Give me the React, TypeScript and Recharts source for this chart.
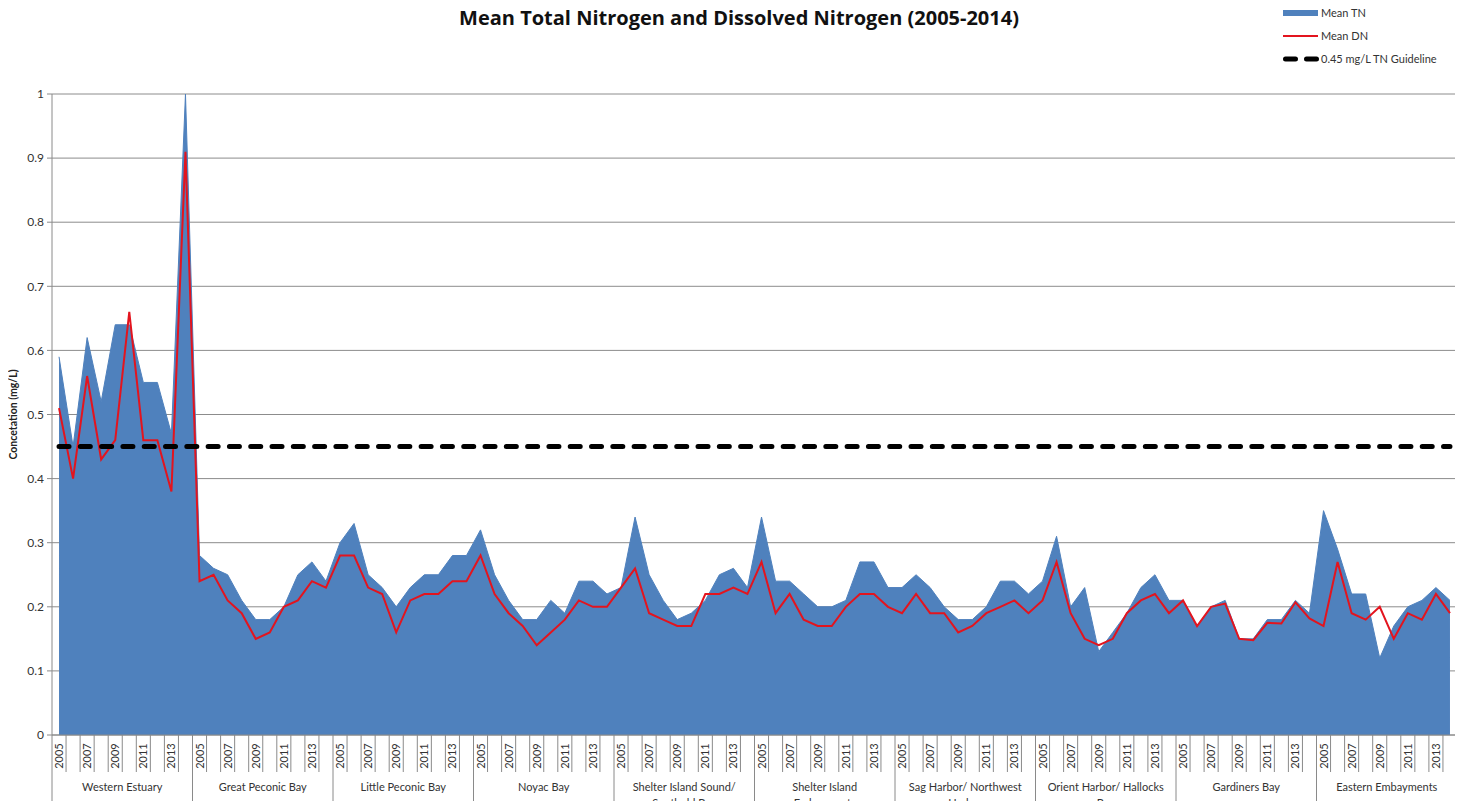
import { Area, CartesianGrid, ComposedChart, Line, ReferenceLine, XAxis, YAxis } from "recharts";

const SITES = [
  "Western Estuary",
  "Great Peconic Bay",
  "Little Peconic Bay",
  "Noyac Bay",
  "Shelter Island Sound/\nSouthold Bay",
  "Shelter Island\nEmbayments",
  "Sag Harbor/ Northwest\nHarbor",
  "Orient Harbor/ Hallocks\nBay",
  "Gardiners Bay",
  "Eastern Embayments",
];

const YEARS = [2005, 2006, 2007, 2008, 2009, 2010, 2011, 2012, 2013, 2014];

// mean total nitrogen, one row per site, 2005..2014
const MEAN_TN = [
  [0.59, 0.45, 0.62, 0.52, 0.64, 0.64, 0.55, 0.55, 0.47, 1.0],
  [0.28, 0.26, 0.25, 0.21, 0.18, 0.18, 0.2, 0.25, 0.27, 0.24],
  [0.3, 0.33, 0.25, 0.23, 0.2, 0.23, 0.25, 0.25, 0.28, 0.28],
  [0.32, 0.25, 0.21, 0.18, 0.18, 0.21, 0.19, 0.24, 0.24, 0.22],
  [0.23, 0.34, 0.25, 0.21, 0.18, 0.19, 0.21, 0.25, 0.26, 0.23],
  [0.34, 0.24, 0.24, 0.22, 0.2, 0.2, 0.21, 0.27, 0.27, 0.23],
  [0.23, 0.25, 0.23, 0.2, 0.18, 0.18, 0.2, 0.24, 0.24, 0.22],
  [0.24, 0.31, 0.2, 0.23, 0.13, 0.16, 0.19, 0.23, 0.25, 0.21],
  [0.21, 0.17, 0.2, 0.21, 0.15, 0.15, 0.18, 0.18, 0.21, 0.19],
  [0.35, 0.29, 0.22, 0.22, 0.12, 0.17, 0.2, 0.21, 0.23, 0.21],
];

// mean dissolved nitrogen
const MEAN_DN = [
  [0.51, 0.4, 0.56, 0.43, 0.46, 0.66, 0.46, 0.46, 0.38, 0.91],
  [0.24, 0.25, 0.21, 0.19, 0.15, 0.16, 0.2, 0.21, 0.24, 0.23],
  [0.28, 0.28, 0.23, 0.22, 0.16, 0.21, 0.22, 0.22, 0.24, 0.24],
  [0.28, 0.22, 0.19, 0.17, 0.14, 0.16, 0.18, 0.21, 0.2, 0.2],
  [0.23, 0.26, 0.19, 0.18, 0.17, 0.17, 0.22, 0.22, 0.23, 0.22],
  [0.27, 0.19, 0.22, 0.18, 0.17, 0.17, 0.2, 0.22, 0.22, 0.2],
  [0.19, 0.22, 0.19, 0.19, 0.16, 0.17, 0.19, 0.2, 0.21, 0.19],
  [0.21, 0.27, 0.19, 0.15, 0.14, 0.15, 0.19, 0.21, 0.22, 0.19],
  [0.21, 0.17, 0.2, 0.205, 0.15, 0.148, 0.175, 0.174, 0.207, 0.182],
  [0.17, 0.27, 0.19, 0.18, 0.2, 0.15, 0.19, 0.18, 0.22, 0.19],
];

const GUIDELINE = 0.45;
const Y_TICKS = [0, 0.1, 0.2, 0.3, 0.4, 0.5, 0.6, 0.7, 0.8, 0.9, 1];

const rows = SITES.flatMap((site, s) =>
  YEARS.map((year, i) => ({
    key: `${s}-${year}`,
    site,
    year,
    tn: MEAN_TN[s][i],
    dn: MEAN_DN[s][i],
  }))
);

const W = 1463;
const H = 809;
const PLOT_LEFT = 52;
const PLOT_RIGHT = 1457;
const PLOT_TOP = 94;
const PLOT_BOTTOM = 735;
const BAND = (PLOT_RIGHT - PLOT_LEFT) / rows.length;

const FONT = "Lato, 'Open Sans', sans-serif";
const AXIS = "#8a8a8a";
const GRID = "#8c8c8c";
const BLUE = "#4F81BD";
const RED = "#E3141E";
const TEXT = "#333";

function YearTick(props: any) {
  const { x, index } = props;
  const row = rows[index];
  if (!row) return null;
  const i = index % YEARS.length;
  const left = x - BAND / 2;
  const right = x + BAND / 2;
  const lines = i === 4 ? SITES[Math.floor(index / YEARS.length)].split("\n") : [];
  return (
    <g>
      <line x1={left} x2={left} y1={PLOT_BOTTOM} y2={i === 0 ? H : PLOT_BOTTOM + 37} stroke={AXIS} />
      {index === rows.length - 1 && <line x1={right} x2={right} y1={PLOT_BOTTOM} y2={H} stroke={AXIS} />}
      {i % 2 === 0 && (
        <text
          transform={`translate(${x + 4},${PLOT_BOTTOM + 21}) rotate(-90)`}
          textAnchor="middle"
          fontSize={11}
          fontFamily={FONT}
          fill={TEXT}
        >
          {row.year}
        </text>
      )}
      {lines.map((t, k) => (
        <text key={k} x={right} y={PLOT_BOTTOM + 56 + k * 16} textAnchor="middle" fontSize={11} fontFamily={FONT} fill={TEXT}>
          {t}
        </text>
      ))}
    </g>
  );
}

function YLabel(props: any) {
  const vb = props.viewBox || {};
  const cy = (vb.y ?? PLOT_TOP) + (vb.height ?? PLOT_BOTTOM - PLOT_TOP) / 2;
  return (
    <text
      transform={`translate(17,${cy}) rotate(-90)`}
      textAnchor="middle"
      fontSize={10.5}
      fontWeight="bold"
      fontFamily={FONT}
      fill="#222"
    >
      Concetation (mg/L)
    </text>
  );
}

function LegendBox() {
  const item = { display: "flex", alignItems: "center", height: 23 } as const;
  return (
    <div style={{ position: "absolute", left: 1283, top: 1, fontFamily: FONT, fontSize: 11, color: TEXT }}>
      <div style={item}>
        <svg width={38} height={10}><rect x={0} y={2} width={35} height={6} fill={BLUE} /></svg>
        <span>Mean TN</span>
      </div>
      <div style={item}>
        <svg width={38} height={10}><line x1={0} x2={35} y1={5} y2={5} stroke={RED} strokeWidth={2} /></svg>
        <span>Mean DN</span>
      </div>
      <div style={item}>
        <svg width={38} height={10}>
          <line x1={2.5} x2={34} y1={5} y2={5} stroke="#000" strokeWidth={5} strokeDasharray="10 11" strokeLinecap="round" />
        </svg>
        <span>0.45 mg/L TN Guideline</span>
      </div>
    </div>
  );
}

export default function App() {
  return (
    <div style={{ position: "relative", width: W, height: H, margin: -8, background: "#fff" }}>
      <div
        style={{
          position: "absolute",
          left: 0,
          width: 1478,
          top: 4,
          textAlign: "center",
          fontFamily: "'Open Sans', sans-serif",
          fontWeight: "bold",
          fontSize: 20,
          color: "#111",
        }}
      >
        Mean Total Nitrogen and Dissolved Nitrogen (2005-2014)
      </div>
      <LegendBox />
      <ComposedChart
        width={W}
        height={H}
        data={rows}
        margin={{ top: PLOT_TOP, right: W - PLOT_RIGHT, bottom: 0, left: 0 }}
      >
        <CartesianGrid vertical={false} stroke={GRID} />
        <XAxis
          dataKey="key"
          type="category"
          interval={0}
          padding={{ left: BAND / 2, right: BAND / 2 }}
          tick={YearTick}
          tickLine={false}
          axisLine={{ stroke: AXIS }}
          height={H - PLOT_BOTTOM}
        />
        <YAxis
          type="number"
          domain={[0, 1]}
          ticks={Y_TICKS}
          interval={0}
          width={PLOT_LEFT}
          tickSize={5}
          tickMargin={3}
          tickLine={{ stroke: AXIS }}
          axisLine={{ stroke: AXIS }}
          tick={{ fontSize: 12, fontFamily: FONT, fill: TEXT }}
          label={<YLabel />}
        />
        <Area
          type="linear"
          dataKey="tn"
          name="Mean TN"
          fill={BLUE}
          fillOpacity={1}
          stroke={BLUE}
          strokeWidth={1}
          isAnimationActive={false}
        />
        <Line
          type="linear"
          dataKey="dn"
          name="Mean DN"
          stroke={RED}
          strokeWidth={2}
          dot={false}
          isAnimationActive={false}
        />
        <ReferenceLine
          segment={[
            { x: rows[0].key, y: GUIDELINE },
            { x: rows[rows.length - 1].key, y: GUIDELINE },
          ]}
          stroke="#000"
          strokeWidth={5}
          strokeDasharray="10 11.3"
          strokeLinecap="round"
        />
      </ComposedChart>
    </div>
  );
}
